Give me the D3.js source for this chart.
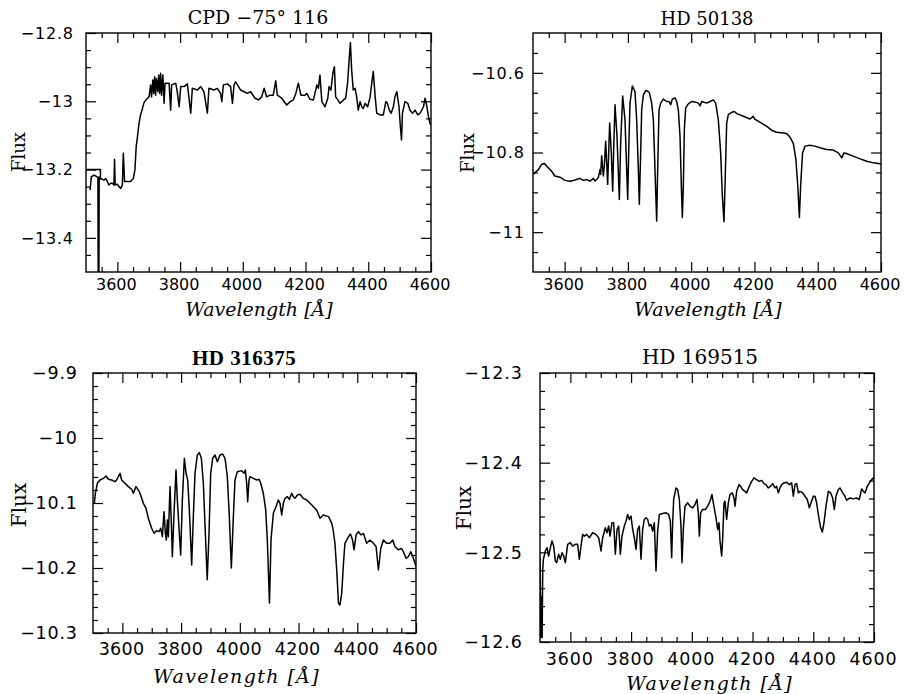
<!DOCTYPE html>
<html>
<head>
<meta charset="utf-8">
<script src="https://cdn.jsdelivr.net/npm/d3@7"></script>
<style>
  html, body { margin: 0; padding: 0; background: #fff; }
  svg { display: block; }
</style>
</head>
<body>
<svg id="chart" width="905" height="694"></svg>
<script>
// ---------------- DATA ----------------
const panelTitles = ["CPD \u221275\u00b0 116", "HD 50138", "HD 316375", "HD 169515"];
const xAxisLabel = "Wavelength [\u00c5]";
const yAxisLabel = "Flux";
const xDomain = [3500, 4600];
const xMajorTicks = [3600, 3800, 4000, 4200, 4400, 4600];
const xTickLabels = ["3600", "3800", "4000", "4200", "4400", "4600"];

const cpdYDomain = [-13.5, -12.8];
const cpdYMajorTicks = [-12.8, -13, -13.2, -13.4];
const cpdYTickLabels = ["\u221212.8", "\u221213", "\u221213.2", "\u221213.4"];
const hd50138YDomain = [-11.1, -10.5];
const hd50138YMajorTicks = [-10.6, -10.8, -11];
const hd50138YTickLabels = ["\u221210.6", "\u221210.8", "\u221211"];
const hd316375YDomain = [-10.3, -9.9];
const hd316375YMajorTicks = [-9.9, -10, -10.1, -10.2, -10.3];
const hd316375YTickLabels = ["\u22129.9", "\u221210", "\u221210.1", "\u221210.2", "\u221210.3"];
const hd169515YDomain = [-12.6, -12.3];
const hd169515YMajorTicks = [-12.3, -12.4, -12.5, -12.6];
const hd169515YTickLabels = ["\u221212.3", "\u221212.4", "\u221212.5", "\u221212.6"];

// [wavelength, log flux]
const cpdSpectrum = [
 [3513,-13.26],[3517,-13.221],[3526,-13.216],[3534,-13.221],[3538,-13.222],[3539,-13.56],[3541,-13.56],[3542,-13.222],
 [3547,-13.226],[3557,-13.231],[3563,-13.226],[3568,-13.235],[3573,-13.245],[3579,-13.24],[3584,-13.24],[3589,-13.245],
 [3591,-13.17],[3593,-13.245],[3600,-13.243],[3605,-13.25],[3611,-13.255],[3616,-13.245],[3619,-13.152],[3623,-13.235],
 [3632,-13.235],[3642,-13.235],[3651,-13.226],[3656,-13.201],[3660,-13.133],[3664,-13.104],[3669,-13.065],[3674,-13.04],
 [3680,-13.021],[3685,-13.004],[3693,-12.994],[3701,-12.987],[3706,-12.952],[3709,-12.987],[3713,-12.938],[3716,-12.977],
 [3719,-12.928],[3722,-12.982],[3725,-12.933],[3729,-12.972],[3732,-12.923],[3735,-12.977],[3738,-12.918],[3741,-12.982],
 [3745,-12.923],[3749,-13.006],[3752,-12.947],[3754,-12.947],[3765,-12.947],[3770,-13.026],[3773,-12.952],[3786,-12.947],
 [3791,-12.972],[3797,-13.016],[3802,-12.957],[3813,-12.957],[3823,-12.949],[3828,-12.987],[3834,-13.035],[3839,-12.962],
 [3855,-12.967],[3866,-12.957],[3876,-12.972],[3887,-13.035],[3892,-12.962],[3908,-12.967],[3919,-12.962],[3929,-12.977],
 [3933,-13.001],[3938,-12.952],[3951,-12.949],[3961,-12.957],[3967,-13.006],[3972,-12.952],[3977,-12.943],[3993,-12.967],
 [4004,-12.972],[4014,-12.977],[4025,-12.972],[4039,-12.991],[4050,-12.996],[4060,-12.987],[4068,-12.962],[4076,-12.987],
 [4087,-12.982],[4097,-12.982],[4105,-12.940],[4110,-12.982],[4124,-12.991],[4140,-13.011],[4151,-13.001],[4161,-12.996],
 [4169,-12.977],[4177,-12.947],[4185,-12.982],[4198,-12.982],[4204,-12.977],[4214,-12.994],[4225,-12.996],[4230,-12.977],
 [4236,-12.952],[4241,-12.962],[4246,-12.923],[4252,-13.001],[4262,-13.016],[4271,-12.991],[4275,-12.957],[4281,-12.967],
 [4287,-12.918],[4292,-12.899],[4296,-12.987],[4303,-12.996],[4310,-13.006],[4321,-12.996],[4328,-12.991],[4334,-12.947],
 [4339,-12.879],[4343,-12.828],[4347,-12.908],[4352,-12.967],[4358,-12.962],[4363,-12.987],[4368,-13.026],[4374,-13.001],
 [4379,-13.016],[4384,-13.021],[4390,-13.006],[4398,-13.016],[4406,-12.987],[4411,-12.947],[4416,-12.913],[4422,-12.987],
 [4427,-13.035],[4438,-13.040],[4448,-13.040],[4456,-13.001],[4461,-13.006],[4467,-13.026],[4473,-13.035],[4480,-13.016],
 [4485,-12.987],[4491,-12.972],[4498,-13.016],[4502,-13.070],[4506,-13.113],[4509,-13.035],[4517,-13.001],[4526,-13.006],
 [4533,-13.026],[4541,-13.035],[4549,-13.026],[4558,-13.040],[4565,-13.035],[4576,-13.016],[4581,-12.991],[4586,-13.011],
 [4592,-13.045],[4597,-13.065],[4600,-13.070]
];
const cpdEdgeSegment = [[3500,-13.2],[3546,-13.2],[3546,-13.23]];

const hd50138Spectrum = [
 [3502,-10.855],[3506,-10.851],[3517,-10.843],[3527,-10.83],[3536,-10.8275],[3545,-10.836],[3559,-10.847],[3569,-10.859],
 [3585,-10.862],[3601,-10.87],[3617,-10.872],[3633,-10.869],[3648,-10.865],[3659,-10.87],[3670,-10.868],[3680,-10.872],
 [3691,-10.865],[3696,-10.872],[3706.5,-10.863],[3711.8,-10.843],[3713.9,-10.855],[3717.1,-10.808],[3722.3,-10.859],
 [3725.5,-10.834],[3729.7,-10.772],[3732.9,-10.826],[3736,-10.88],[3739.2,-10.801],[3742.4,-10.726],[3747.6,-10.801],
 [3751.8,-10.897],[3755,-10.793],[3759.2,-10.68],[3765.5,-10.759],[3772.9,-10.918],[3777.1,-10.776],[3783.4,-10.658],
 [3790.8,-10.718],[3796.1,-10.843],[3799.3,-10.918],[3802.4,-10.801],[3806.6,-10.676],[3814,-10.633],[3822.4,-10.647],
 [3827.7,-10.718],[3833,-10.843],[3836.1,-10.93],[3840.3,-10.801],[3843.5,-10.693],[3848.8,-10.655],[3857.2,-10.644],
 [3867.7,-10.649],[3875.1,-10.676],[3880.4,-10.718],[3885.6,-10.843],[3890.9,-10.972],[3894.1,-10.843],[3898.3,-10.693],
 [3903.6,-10.676],[3912,-10.666],[3922.5,-10.672],[3929.9,-10.672],[3935.2,-10.68],[3940.4,-10.666],[3948.9,-10.663],
 [3954.1,-10.672],[3959.4,-10.693],[3964.7,-10.759],[3968.9,-10.884],[3972,-10.963],[3975.2,-10.884],[3978.4,-10.743],
 [3982.6,-10.688],[3991,-10.678],[4001.5,-10.672],[4012.1,-10.673],[4022.6,-10.676],[4027.9,-10.683],[4033.2,-10.672],
 [4049,-10.676],[4059.5,-10.672],[4070,-10.668],[4077.4,-10.676],[4085.8,-10.718],[4093.2,-10.801],[4098.5,-10.909],
 [4103.7,-10.974],[4106.9,-10.884],[4112.2,-10.726],[4117.4,-10.705],[4128,-10.699],[4136.4,-10.697],
 [4144,-10.7025],[4165,-10.709],[4186,-10.716],[4196,-10.709],[4201,-10.716],[4217,-10.724],[4238,-10.734],[4254,-10.744],
 [4270,-10.749],[4291,-10.751],[4302,-10.752],[4312,-10.761],[4323,-10.7775],[4331,-10.8175],[4337,-10.884],[4342,-10.963],
 [4346,-10.884],[4352,-10.801],[4360,-10.784],[4375,-10.782],[4391,-10.784],[4407,-10.788],[4428,-10.7925],[4449,-10.794],
 [4465,-10.801],[4476,-10.8135],[4483,-10.801],[4491,-10.8025],[4512,-10.809],[4534,-10.816],[4555,-10.822],[4576,-10.826],
 [4597,-10.8285],[4600,-10.829]
];

const hd316375Spectrum = [
 [3504.6,-10.1005],[3508,-10.085],[3514.8,-10.0697],[3523.9,-10.0646],[3535.2,-10.062],[3544.3,-10.0584],[3552.2,-10.0635],
 [3563.6,-10.0646],[3575,-10.0671],[3580.6,-10.0646],[3592,-10.0543],[3597.6,-10.0646],[3609,-10.0697],[3620.4,-10.0748],
 [3631.7,-10.0789],[3637.4,-10.085],[3646.5,-10.0748],[3654.4,-10.08],[3660.1,-10.0851],[3671.5,-10.1005],[3680.5,-10.1082],
 [3688.5,-10.1236],[3699.8,-10.1389],[3707.8,-10.1466],[3716.9,-10.1425],[3724.8,-10.1441],[3730.5,-10.1389],
 [3736.2,-10.1518],[3741.8,-10.1133],[3746.4,-10.1466],[3749.8,-10.1569],[3753.2,-10.1261],[3756.6,-10.1518],
 [3762.3,-10.0748],[3766.8,-10.1312],[3770.2,-10.1825],[3775.9,-10.1159],[3782.7,-10.0492],[3787.2,-10.0954],
 [3794,-10.1466],[3798.6,-10.18],[3804.3,-10.0954],[3811.1,-10.0312],[3816.8,-10.0543],[3822.4,-10.0646],[3828.1,-10.1107],
 [3836.1,-10.1953],[3841.7,-10.121],[3847.4,-10.0543],[3855.4,-10.0261],[3862.2,-10.0225],[3869,-10.0312],[3875.8,-10.0697],
 [3882.6,-10.1466],[3889,-10.218],[3895.1,-10.1466],[3900.8,-10.0543],[3907.6,-10.0312],[3915.5,-10.0261],[3923.5,-10.0364],
 [3932.5,-10.0261],[3941.6,-10.0246],[3949.6,-10.0312],[3957.5,-10.0595],[3964.3,-10.121],[3971.1,-10.2],[3978,-10.121],
 [3983.6,-10.0646],[3991.6,-10.0518],[4006.3,-10.0502],[4014.3,-10.0543],[4018.8,-10.0492],[4023.4,-10.0697],
 [4026.8,-10.0979],[4031.3,-10.0646],[4034.7,-10.0595],[4046.1,-10.062],[4057.4,-10.0646],[4065.4,-10.0636],
 [4071.1,-10.0697],[4080.1,-10.0851],[4088.1,-10.1107],[4093.7,-10.1569],[4101,-10.254],[4106.2,-10.1569],[4114.2,-10.1159],
 [4123.3,-10.1056],[4131.2,-10.0954],[4136.9,-10.1005],[4142.6,-10.1184],[4148.2,-10.1005],[4153.9,-10.0928],
 [4161.9,-10.0903],[4168.7,-10.0944],[4176.6,-10.0851],[4182.3,-10.0903],[4188,-10.0928],[4195.9,-10.0877],[4205,-10.0866],
 [4216,-10.0928],[4228,-10.0954],[4245,-10.103],[4262,-10.111],[4273,-10.1235],[4284,-10.1184],[4302,-10.121],[4313,-10.131],
 [4318,-10.1415],[4324,-10.162],[4330,-10.203],[4336,-10.2543],[4341,-10.2569],[4347,-10.239],[4353,-10.1928],[4358,-10.162],
 [4370,-10.1518],[4377,-10.1477],[4384,-10.157],[4389,-10.172],[4396,-10.149],[4404,-10.144],[4412,-10.149],[4421,-10.147],
 [4432,-10.162],[4443,-10.157],[4455,-10.162],[4464,-10.167],[4472,-10.203],[4480,-10.17],[4489,-10.157],[4500,-10.162],
 [4511,-10.162],[4521,-10.157],[4528,-10.167],[4540,-10.172],[4551,-10.17],[4557,-10.175],[4566,-10.185],[4574,-10.1825],
 [4582,-10.175],[4589,-10.1825],[4597,-10.193],[4600,-10.198]
];

const hd169515Spectrum = [
 [3500,-12.505],[3501,-12.53],[3503,-12.595],[3505,-12.55],[3507,-12.595],[3509,-12.52],[3511,-12.508],[3517.5,-12.4985],
 [3523,-12.4948],[3528.5,-12.5041],[3532.9,-12.4967],[3539.5,-12.4874],[3545,-12.493],[3550.5,-12.5096],[3554.9,-12.5115],
 [3561.4,-12.5022],[3567,-12.5078],[3572.4,-12.5004],[3577.9,-12.5041],[3583.4,-12.5115],[3591.1,-12.4911],[3599.9,-12.4893],
 [3607.6,-12.493],[3616.3,-12.4911],[3624,-12.4911],[3629.5,-12.5078],[3635,-12.493],[3640.5,-12.48],[3646,-12.4819],
 [3653.7,-12.48],[3662.4,-12.4837],[3673.4,-12.4782],[3684.4,-12.48],[3693.2,-12.4837],[3700.9,-12.4985],[3706.4,-12.4837],
 [3715.1,-12.4726],[3720.6,-12.4782],[3726.1,-12.4707],[3730.5,-12.4819],[3737.1,-12.467],[3742.6,-12.467],[3748.1,-12.5022],
 [3753.6,-12.4745],[3759.1,-12.4707],[3764.5,-12.5022],[3770,-12.4819],[3777.7,-12.4707],[3783.2,-12.4652],[3788.7,-12.4578],
 [3794.2,-12.4633],[3799.7,-12.4596],[3805.2,-12.4745],[3810.7,-12.4837],[3816.2,-12.4967],[3821.6,-12.4745],
 [3827.1,-12.4707],[3832.6,-12.5078],[3838.1,-12.4745],[3843.6,-12.4633],[3849.1,-12.4615],[3854.6,-12.4633],
 [3860.1,-12.4707],[3865.5,-12.4689],[3871,-12.4763],[3876.5,-12.467],[3882,-12.5207],[3887.5,-12.4763],[3893,-12.4578],
 [3904,-12.4567],[3915,-12.4559],[3923.7,-12.4578],[3929.2,-12.4652],[3933.6,-12.5059],[3936.9,-12.467],[3940.2,-12.4411],
 [3947.9,-12.4282],[3953.4,-12.43],[3958.9,-12.4411],[3964.3,-12.4707],[3967.6,-12.5115],[3972,-12.4745],[3977.5,-12.4485],
 [3986.3,-12.4448],[3994,-12.4485],[4002.8,-12.4504],[4010.5,-12.4467],[4017,-12.4411],[4021.4,-12.4559],[4024.7,-12.4819],
 [4029.1,-12.4559],[4035.7,-12.4522],[4044.5,-12.4522],[4052.2,-12.4485],[4059.9,-12.443],[4066.4,-12.4356],
 [4071.9,-12.4467],[4079.6,-12.4615],[4085.1,-12.4745],[4089.5,-12.467],[4092.8,-12.4874],[4098.3,-12.5041],
 [4101.5,-12.4856],[4106,-12.4448],[4109.2,-12.443],[4114.7,-12.4634],[4120.2,-12.4448],[4125.7,-12.4356],[4133.4,-12.4337],
 [4138.9,-12.4393],[4142.2,-12.4485],[4147.7,-12.4319],[4155.3,-12.4245],[4160.8,-12.4263],[4167.4,-12.43],[4175.1,-12.4319],
 [4180.6,-12.4337],[4189.4,-12.4263],[4197.1,-12.4208],[4204.7,-12.417],[4213.5,-12.4189],[4222.3,-12.4208],[4230,-12.4197],
 [4237.7,-12.4234],[4244.3,-12.4245],[4251.9,-12.4282],[4259.6,-12.4263],[4266.2,-12.4234],[4273.9,-12.4282],
 [4279.4,-12.4263],[4284.9,-12.4337],[4290.4,-12.4282],[4295.9,-12.4245],[4303.5,-12.4226],[4312.3,-12.4219],
 [4321.1,-12.4245],[4328.8,-12.4226],[4334.3,-12.4374],[4339.8,-12.4245],[4345.3,-12.4234],[4350.8,-12.4337],
 [4356.2,-12.4319],[4365.1,-12.4337],[4372.7,-12.4374],[4380.4,-12.4411],[4387,-12.4504],[4392.5,-12.4448],[4400.2,-12.4374],
 [4405.6,-12.4374],[4411.1,-12.4448],[4416.6,-12.4578],[4424.3,-12.4726],[4429.8,-12.4774],[4435.3,-12.467],
 [4441.9,-12.4485],[4449.6,-12.4319],[4457.2,-12.4337],[4463.8,-12.4393],[4469.3,-12.4522],[4474.8,-12.4374],
 [4482.5,-12.43],[4488,-12.4282],[4496.8,-12.4337],[4504.4,-12.4374],[4509.9,-12.4419],[4520.9,-12.4393],[4531.9,-12.4404],
 [4542.9,-12.4393],[4551.6,-12.4411],[4559.3,-12.4293],[4564.8,-12.4319],[4570.3,-12.4337],[4578,-12.4263],
 [4584.6,-12.4226],[4592.3,-12.4189],[4597.8,-12.417],[4600,-12.416]
];

// ---------------- LAYOUT ----------------
const panels = [
  { title: panelTitles[0], titleBold: false, series: [cpdSpectrum, cpdEdgeSegment],
    yDomain: cpdYDomain, yMajor: cpdYMajorTicks, yLabels: cpdYTickLabels, yMinorStep: 0.05,
    box: {l: 86, r: 431, t: 33, b: 272},
    tick: 16, tickLs: 0.8, xtLs: 0, titleFs: 19, titleX: 258, titleY: 24, xlabFs: 19, xlabLs: 0, xlabX: 259, xlabY: 316,
    xtY: 290, ytGap: 13, ylabX: 25, ylabY: 152, ylabFs: 18 },
  { title: panelTitles[1], titleBold: false, series: [hd50138Spectrum],
    yDomain: hd50138YDomain, yMajor: hd50138YMajorTicks, yLabels: hd50138YTickLabels, yMinorStep: 0.05,
    box: {l: 533, r: 881, t: 33, b: 272},
    tick: 16, tickLs: 1, xtLs: 0, titleFs: 18, titleX: 707, titleY: 25, xlabFs: 19, xlabLs: 0, xlabX: 708, xlabY: 316,
    xtY: 290, ytGap: 9, ylabX: 474, ylabY: 153, ylabFs: 18 },
  { title: panelTitles[2], titleBold: true, series: [hd316375Spectrum],
    yDomain: hd316375YDomain, yMajor: hd316375YMajorTicks, yLabels: hd316375YTickLabels, yMinorStep: 0.02,
    box: {l: 93, r: 416, t: 373, b: 633},
    tick: 17.5, tickLs: 0.8, xtLs: 0.3, titleFs: 17, titleX: 244, titleY: 365, xlabFs: 19, xlabLs: 1.4, xlabX: 236, xlabY: 683,
    xtY: 655, ytGap: 16, ylabX: 26, ylabY: 505, ylabFs: 20 },
  { title: panelTitles[3], titleBold: false, series: [hd169515Spectrum],
    yDomain: hd169515YDomain, yMajor: hd169515YMajorTicks, yLabels: hd169515YTickLabels, yMinorStep: 0.02,
    box: {l: 540, r: 874, t: 373, b: 642},
    tick: 17.5, tickLs: 1, xtLs: 0.9, titleFs: 20, titleX: 700, titleY: 364, xlabFs: 19, xlabLs: 1.4, xlabX: 709, xlabY: 690,
    xtY: 665, ytGap: 18, ylabX: 471, ylabY: 508, ylabFs: 20 }
];

const svg = d3.select("#chart");
svg.append("rect").attr("width", 905).attr("height", 694).attr("fill", "#fff");

panels.forEach((p, i) => {
  const B = p.box;
  const x = d3.scaleLinear().domain(xDomain).range([B.l, B.r]);
  const y = d3.scaleLinear().domain(p.yDomain).range([B.b, B.t]);
  const g = svg.append("g");

  const clipId = "clip" + i;
  svg.append("clipPath").attr("id", clipId)
    .append("rect").attr("x", B.l).attr("y", B.t).attr("width", B.r - B.l).attr("height", B.b - B.t);

  // spectra
  const line = d3.line().x(d => x(d[0])).y(d => y(d[1]));
  p.series.forEach(s => {
    g.append("path").datum(s).attr("d", line)
      .attr("fill", "none").attr("stroke", "#000").attr("stroke-width", 1.5)
      .attr("stroke-linejoin", "round").attr("clip-path", `url(#${clipId})`);
  });

  // ticks (inward, all four sides) via d3 axes
  const xMinor = d3.range(3550, 4600, 50).filter(v => !xMajorTicks.includes(v));
  const [y0, y1] = p.yDomain;
  const nMinor = Math.round((y1 - y0) / p.yMinorStep);
  const yMinor = d3.range(1, nMinor).map(k => +(y0 + k * p.yMinorStep).toFixed(4))
    .filter(v => !p.yMajor.some(m => Math.abs(m - v) < 1e-6));
  const axisSpecs = [
    [d3.axisBottom, x, `translate(0,${B.b})`],
    [d3.axisTop, x, `translate(0,${B.t})`],
    [d3.axisLeft, y, `translate(${B.l},0)`],
    [d3.axisRight, y, `translate(${B.r},0)`]
  ];
  axisSpecs.forEach(([fn, sc, tr], k) => {
    const isX = k < 2;
    [[isX ? xMinor : yMinor, 5], [isX ? xMajorTicks : p.yMajor, 10]].forEach(([vals, len]) => {
      g.append("g").attr("transform", tr)
        .call(fn(sc).tickValues(vals).tickSize(-len).tickFormat(""))
        .call(a => a.select(".domain").remove())
        .call(a => a.selectAll("line").attr("stroke", "#000").attr("stroke-width", 1.2));
    });
  });

  // frame
  g.append("rect").attr("x", B.l).attr("y", B.t).attr("width", B.r - B.l).attr("height", B.b - B.t)
    .attr("fill", "none").attr("stroke", "#000").attr("stroke-width", 1.4);

  // x tick labels
  g.selectAll(".xt").data(xMajorTicks).enter().append("text")
    .attr("x", d => x(d) - 1 + p.xtLs / 2).attr("y", p.xtY)
    .attr("text-anchor", "middle")
    .attr("font-family", "DejaVu Sans, sans-serif").attr("font-size", p.tick)
    .attr("letter-spacing", p.xtLs)
    .text((d, j) => xTickLabels[j]);

  // y tick labels
  g.selectAll(".yt").data(p.yMajor).enter().append("text")
    .attr("x", B.l - p.ytGap + p.tickLs).attr("y", d => y(d))
    .attr("dy", "0.36em")
    .attr("text-anchor", "end")
    .attr("font-family", "DejaVu Sans, sans-serif").attr("font-size", p.tick)
    .attr("letter-spacing", p.tickLs)
    .text((d, j) => p.yLabels[j]);

  // title
  g.append("text").attr("x", p.titleX).attr("y", p.titleY)
    .attr("text-anchor", "middle")
    .attr("font-family", p.titleBold ? "Liberation Serif, serif" : "DejaVu Serif, serif")
    .attr("font-weight", p.titleBold ? "bold" : "normal")
    .attr("font-size", p.titleBold ? p.titleFs + 4 : p.titleFs)
    .attr("letter-spacing", p.titleBold ? 0.5 : 0)
    .text(p.title);

  // x axis label
  g.append("text").attr("x", p.xlabX + p.xlabLs / 2).attr("y", p.xlabY)
    .attr("text-anchor", "middle")
    .attr("font-family", "DejaVu Serif, serif").attr("font-style", "italic")
    .attr("font-size", p.xlabFs)
    .attr("letter-spacing", p.xlabLs)
    .text(xAxisLabel);

  // y axis label
  g.append("text")
    .attr("transform", `translate(${p.ylabX},${p.ylabY}) rotate(-90)`)
    .attr("text-anchor", "middle")
    .attr("font-family", "DejaVu Serif, serif").attr("font-size", p.ylabFs)
    .text(yAxisLabel);
});
</script>
</body>
</html>
